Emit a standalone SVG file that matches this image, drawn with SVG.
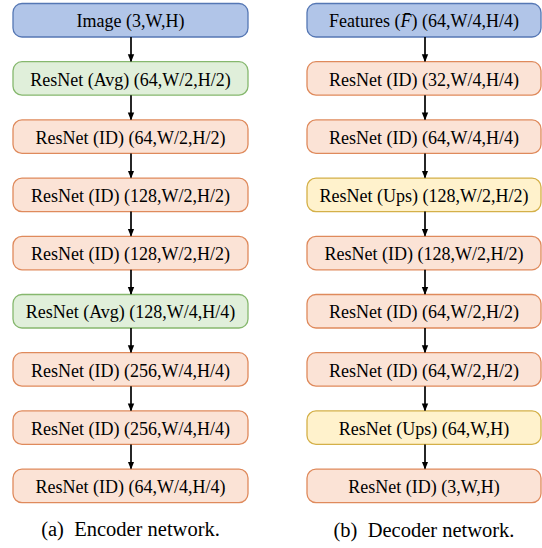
<svg xmlns="http://www.w3.org/2000/svg" width="542" height="548" viewBox="0 0 542 548">
<defs>
<marker id="ah" markerWidth="8" markerHeight="8" refX="7" refY="4" orient="auto" markerUnits="userSpaceOnUse">
<path d="M0,0.8 L8,4 L0,7.2 Z" fill="#000"/>
</marker>
</defs>
<style>
rect{stroke-width:1.3}
.b{fill:#b1c5e8;stroke:#5577b4}
.g{fill:#e0efda;stroke:#86b86e}
.o{fill:#fbe3d6;stroke:#df8a5c}
.y{fill:#fff2cc;stroke:#d4b048}
text{font-family:"Liberation Serif","Times New Roman",serif;font-size:18px;fill:#000;text-anchor:middle}
.cap{font-size:20.5px}
.c line{stroke:#000;stroke-width:1.7;marker-end:url(#ah)}
</style>
<rect width="542" height="548" fill="#fff"/>
<g id="enc0"><rect class="b" x="13" y="3.5" width="235" height="33.5" rx="9"/><text x="130.5" y="27.3">Image (3,W,H)</text></g>
<g id="enc1"><rect class="g" x="13" y="61.7" width="235" height="33.5" rx="9"/><text x="130.5" y="85.5">ResNet (Avg) (64,W/2,H/2)</text></g>
<g id="enc2"><rect class="o" x="13" y="119.9" width="235" height="33.5" rx="9"/><text x="130.5" y="143.7">ResNet (ID) (64,W/2,H/2)</text></g>
<g id="enc3"><rect class="o" x="13" y="178.1" width="235" height="33.5" rx="9"/><text x="130.5" y="201.9">ResNet (ID) (128,W/2,H/2)</text></g>
<g id="enc4"><rect class="o" x="13" y="236.3" width="235" height="33.5" rx="9"/><text x="130.5" y="260.1">ResNet (ID) (128,W/2,H/2)</text></g>
<g id="enc5"><rect class="g" x="13" y="294.5" width="235" height="33.5" rx="9"/><text x="130.5" y="318.3">ResNet (Avg) (128,W/4,H/4)</text></g>
<g id="enc6"><rect class="o" x="13" y="352.7" width="235" height="33.5" rx="9"/><text x="130.5" y="376.5">ResNet (ID) (256,W/4,H/4)</text></g>
<g id="enc7"><rect class="o" x="13" y="410.9" width="235" height="33.5" rx="9"/><text x="130.5" y="434.7">ResNet (ID) (256,W/4,H/4)</text></g>
<g id="enc8"><rect class="o" x="13" y="469.1" width="235" height="33.5" rx="9"/><text x="130.5" y="492.9">ResNet (ID) (64,W/4,H/4)</text></g>

<g id="dec0"><rect class="b" x="307" y="3.5" width="234" height="33.5" rx="9"/><text x="424" y="27.3">Features (<tspan font-style="italic">F̄</tspan>) (64,W/4,H/4)</text></g>
<g id="dec1"><rect class="o" x="307" y="61.7" width="234" height="33.5" rx="9"/><text x="424" y="85.5">ResNet (ID) (32,W/4,H/4)</text></g>
<g id="dec2"><rect class="o" x="307" y="119.9" width="234" height="33.5" rx="9"/><text x="424" y="143.7">ResNet (ID) (64,W/4,H/4)</text></g>
<g id="dec3"><rect class="y" x="307" y="178.1" width="234" height="33.5" rx="9"/><text x="424" y="201.9">ResNet (Ups) (128,W/2,H/2)</text></g>
<g id="dec4"><rect class="o" x="307" y="236.3" width="234" height="33.5" rx="9"/><text x="424" y="260.1">ResNet (ID) (128,W/2,H/2)</text></g>
<g id="dec5"><rect class="o" x="307" y="294.5" width="234" height="33.5" rx="9"/><text x="424" y="318.3">ResNet (ID) (64,W/2,H/2)</text></g>
<g id="dec6"><rect class="o" x="307" y="352.7" width="234" height="33.5" rx="9"/><text x="424" y="376.5">ResNet (ID) (64,W/2,H/2)</text></g>
<g id="dec7"><rect class="y" x="307" y="410.9" width="234" height="33.5" rx="9"/><text x="424" y="434.7">ResNet (Ups) (64,W,H)</text></g>
<g id="dec8"><rect class="o" x="307" y="469.1" width="234" height="33.5" rx="9"/><text x="424" y="492.9">ResNet (ID) (3,W,H)</text></g>

<g id="connectors" class="c">
<line x1="131" y1="37" x2="131" y2="61.2"/>
<line x1="131" y1="95.2" x2="131" y2="119.4"/>
<line x1="131" y1="153.4" x2="131" y2="177.6"/>
<line x1="131" y1="211.6" x2="131" y2="235.8"/>
<line x1="131" y1="269.8" x2="131" y2="294"/>
<line x1="131" y1="328" x2="131" y2="352.2"/>
<line x1="131" y1="386.2" x2="131" y2="410.4"/>
<line x1="131" y1="444.4" x2="131" y2="468.6"/>
<line x1="425" y1="37" x2="425" y2="61.2"/>
<line x1="425" y1="95.2" x2="425" y2="119.4"/>
<line x1="425" y1="153.4" x2="425" y2="177.6"/>
<line x1="425" y1="211.6" x2="425" y2="235.8"/>
<line x1="425" y1="269.8" x2="425" y2="294"/>
<line x1="425" y1="328" x2="425" y2="352.2"/>
<line x1="425" y1="386.2" x2="425" y2="410.4"/>
<line x1="425" y1="444.4" x2="425" y2="468.6"/>
</g>

<text class="cap" x="130.5" y="536" xml:space="preserve">(a)  Encoder network.</text>
<text class="cap" x="424" y="537" xml:space="preserve">(b)  Decoder network.</text>
</svg>
